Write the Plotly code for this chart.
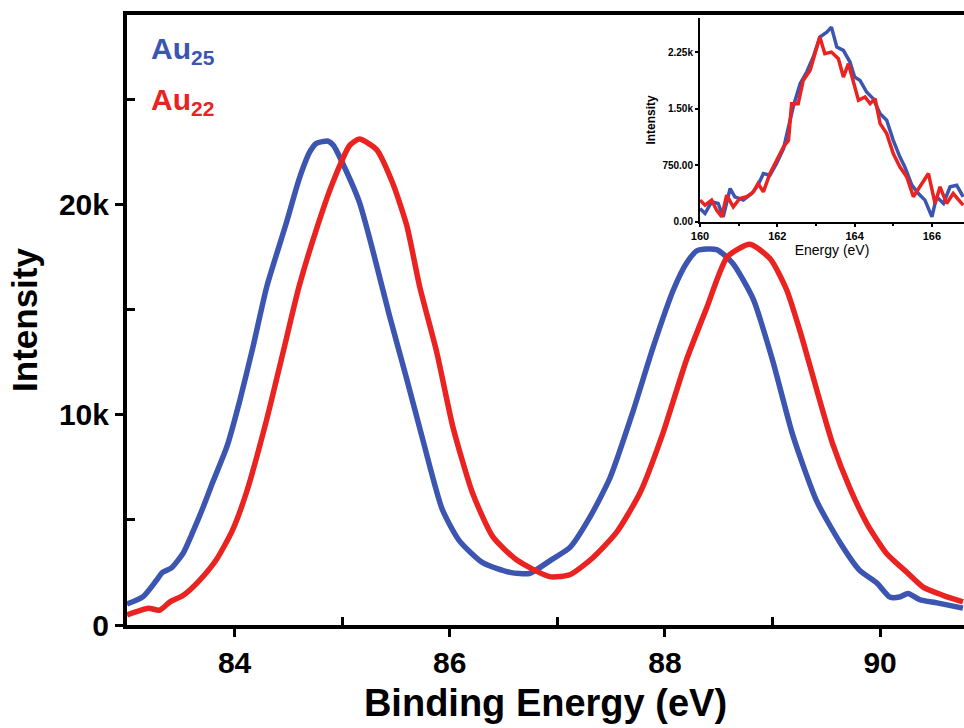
import plotly.graph_objects as go

# Main spectrum: Au 4f region
au25_x = [83.0, 83.15, 83.27, 83.33, 83.41, 83.52, 83.61, 83.7, 83.79, 83.93, 84.05, 84.17, 84.3, 84.48,
          84.6, 84.7, 84.76, 84.87, 84.92, 85.0, 85.16, 85.28, 85.44, 85.6, 85.75, 85.93, 86.09, 86.31,
          86.56, 86.74, 86.93, 87.12, 87.3, 87.49, 87.7, 87.89, 88.08, 88.2, 88.3, 88.48, 88.63, 88.82,
          89.0, 89.19, 89.41, 89.63, 89.81, 89.97, 90.09, 90.18, 90.26, 90.37, 90.53, 90.77]
au25_y = [1000, 1350, 2100, 2500, 2700, 3400, 4400, 5500, 6700, 8500, 10700, 13200, 16100, 19100,
          21200, 22500, 22900, 23000, 22800, 22000, 20100, 17900, 14700, 11700, 8800, 5500, 4000, 2950,
          2500, 2450, 3050, 3700, 5100, 7000, 10100, 13200, 15950, 17200, 17800, 17850, 17200, 15500,
          12600, 9000, 5900, 3900, 2600, 2000, 1330, 1330, 1500, 1200, 1050, 800]

au22_x = [83.0, 83.2, 83.3, 83.4, 83.52, 83.67, 83.83, 83.98, 84.11, 84.3, 84.45, 84.6, 84.76, 84.91,
          85.07, 85.16, 85.32, 85.47, 85.6, 85.72, 85.88, 86.03, 86.21, 86.4, 86.62, 86.93, 87.12, 87.33,
          87.55, 87.77, 87.98, 88.2, 88.39, 88.58, 88.79, 88.98, 89.13, 89.26, 89.41, 89.56, 89.72, 89.88,
          90.06, 90.25, 90.4, 90.59, 90.77]
au22_y = [480, 800, 700, 1100, 1400, 2100, 3100, 4500, 6300, 9800, 12950, 16100, 18800, 21000,
          22800, 23100, 22600, 21000, 19000, 16100, 12950, 9400, 6300, 4200, 3100, 2300, 2400, 3200,
          4400, 6300, 9100, 12600, 15100, 17500, 18100, 17400, 15950, 13900, 11200, 8600, 6500, 4800,
          3400, 2500, 1800, 1400, 1100]

# Inset spectrum: S 2p region
in25_x = [160.0, 160.13, 160.3, 160.47, 160.6, 160.78, 160.9, 161.12, 161.34, 161.5, 161.64, 161.81,
          161.98, 162.16, 162.29, 162.41, 162.59, 162.76, 162.93, 163.1, 163.28, 163.4, 163.54, 163.71,
          163.88, 164.0, 164.14, 164.31, 164.48, 164.66, 164.83, 165.0, 165.17, 165.3, 165.48, 165.65,
          165.82, 166.0, 166.12, 166.3, 166.47, 166.64, 166.81]
in25_y = [176, 110, 265, 243, 66, 441, 331, 287, 375, 485, 640, 617,
          772, 970, 1257, 1521, 1830, 1985, 2183, 2448, 2514, 2580, 2315, 2271,
          2117, 1918, 1874, 1720, 1632, 1433, 1345, 1080, 860, 728, 485, 375,
          287, 66, 331, 243, 463, 485, 331]

in22_x = [160.0, 160.13, 160.3, 160.43, 160.56, 160.69, 160.86, 161.03, 161.2, 161.38, 161.5, 161.64,
          161.81, 161.98, 162.16, 162.29, 162.37, 162.54, 162.67, 162.85, 162.97, 163.1, 163.23, 163.4,
          163.58, 163.71, 163.84, 163.97, 164.1, 164.27, 164.4, 164.53, 164.66, 164.83, 165.0, 165.17,
          165.35, 165.52, 165.69, 165.91, 166.08, 166.21, 166.38, 166.55, 166.81]
in22_y = [287, 220, 287, 154, 66, 353, 198, 309, 331, 397, 507, 397,
          640, 816, 992, 1080, 1565, 1565, 1874, 2007, 2227, 2448, 2227, 2249,
          2161, 1918, 2095, 1830, 1610, 1654, 1565, 1632, 1301, 1169, 904, 728,
          595, 331, 463, 640, 243, 463, 243, 375, 220]

main_yticks = [0, 10000, 20000]
main_yticklabels = ["0", "10k", "20k"]
inset_yticks = [0, 750, 1500, 2250]
inset_yticklabels = ["0.00", "750.00", "1.50k", "2.25k"]

BLUE = "#3b55b1"
RED = "#ea2320"
FONT = "Liberation Sans, Arial"

fig = go.Figure()
fig.add_trace(go.Scatter(x=au25_x, y=au25_y, mode="lines",
                         line=dict(color=BLUE, width=5.5, shape="spline", smoothing=0.6),
                         showlegend=False))
fig.add_trace(go.Scatter(x=au22_x, y=au22_y, mode="lines",
                         line=dict(color=RED, width=5.5, shape="spline", smoothing=0.6),
                         showlegend=False))
fig.add_trace(go.Scatter(x=in25_x, y=in25_y, mode="lines", line=dict(color=BLUE, width=3.5),
                         xaxis="x2", yaxis="y2", showlegend=False))
fig.add_trace(go.Scatter(x=in22_x, y=in22_y, mode="lines", line=dict(color=RED, width=3.5),
                         xaxis="x2", yaxis="y2", showlegend=False))

fig.update_layout(
    width=964, height=728,
    margin=dict(l=127, r=0, t=15, b=103),
    paper_bgcolor="white", plot_bgcolor="white",
    font=dict(family=FONT, color="black"),
    xaxis=dict(
        range=[83, 90.78], tickvals=[84, 86, 88, 90], showgrid=False, zeroline=False,
        showline=True, linecolor="black", linewidth=4, mirror=True,
        ticks="outside", ticklen=8, tickwidth=3, tickcolor="black",
        tickfont=dict(size=30, family=FONT, weight="bold"),
        minor=dict(tickvals=[85, 87, 89], ticks="inside", ticklen=8, tickwidth=3, tickcolor="black"),
        title=dict(text="<b>Binding Energy (eV)</b>", font=dict(size=38, family=FONT), standoff=12),
    ),
    yaxis=dict(
        range=[0, 29000], tickvals=main_yticks, ticktext=main_yticklabels, showgrid=False, zeroline=False,
        showline=True, linecolor="black", linewidth=4,
        ticks="outside", ticklen=8, tickwidth=3, tickcolor="black",
        tickfont=dict(size=30, family=FONT, weight="bold"),
        minor=dict(tickvals=[5000, 15000, 25000], ticks="inside", ticklen=8, tickwidth=3, tickcolor="black"),
        title=dict(text="<b>Intensity</b>", font=dict(size=35, family=FONT), standoff=12),
    ),
    xaxis2=dict(
        domain=[0.6846, 1.0], anchor="y2", range=[160, 166.83], tickvals=[160, 162, 164, 166],
        showgrid=False, zeroline=False, showline=True, linecolor="black", linewidth=2,
        ticks="outside", ticklen=3, tickwidth=1.5, tickcolor="black",
        tickfont=dict(size=11, family=FONT, weight="bold"),
        minor=dict(tickvals=[161, 163, 165], ticks="outside", ticklen=2, tickwidth=1.5, tickcolor="black"),
        title=dict(text="Energy (eV)", font=dict(size=14, family=FONT), standoff=2),
    ),
    yaxis2=dict(
        domain=[0.661, 0.995], anchor="x2", range=[0, 2700], tickvals=inset_yticks,
        ticktext=inset_yticklabels, showgrid=False, zeroline=False, showline=True,
        linecolor="black", linewidth=2,
        ticks="outside", ticklen=3, tickwidth=1.5, tickcolor="black",
        tickfont=dict(size=10, family=FONT, weight="bold"),
        title=dict(text="<b>Intensity</b>", font=dict(size=12, family=FONT), standoff=4),
    ),
    annotations=[
        dict(text="<b>Au<sub>25</sub></b>", x=0.026, y=0.975, xref="paper", yref="paper",
             xanchor="left", yanchor="top", showarrow=False,
             font=dict(size=30, color=BLUE, family=FONT)),
        dict(text="<b>Au<sub>22</sub></b>", x=0.026, y=0.892, xref="paper", yref="paper",
             xanchor="left", yanchor="top", showarrow=False,
             font=dict(size=30, color=RED, family=FONT)),
    ],
)

fig.write_html("out.html")
